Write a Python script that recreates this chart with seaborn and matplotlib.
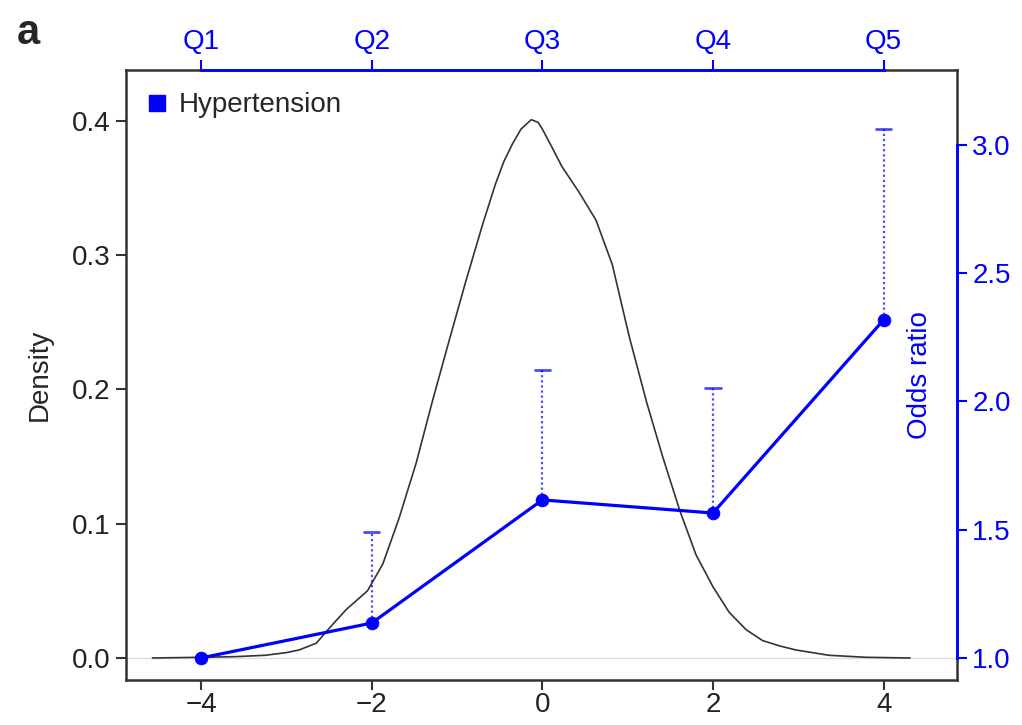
import matplotlib
matplotlib.use("Agg")
import matplotlib.pyplot as plt
import seaborn as sns
import pandas as pd
from matplotlib.lines import Line2D

# ---- data ----
density_x = [-4.57, -4.0, -3.6, -3.25, -3.0, -2.85, -2.65, -2.5, -2.3, -2.05, -1.87,
             -1.68, -1.48, -1.29, -1.09, -0.90, -0.70, -0.55, -0.45, -0.35, -0.25, -0.13,
             -0.05, 0.0, 0.1, 0.23, 0.43, 0.63, 0.82, 1.02, 1.22, 1.41, 1.61, 1.80, 2.0,
             2.19, 2.39, 2.58, 2.78, 2.97, 3.36, 3.8, 4.31]
density_y = [0.0, 0.0005, 0.001, 0.002, 0.004, 0.006, 0.011, 0.022, 0.036, 0.050, 0.070,
             0.104, 0.145, 0.191, 0.237, 0.280, 0.323, 0.353, 0.370, 0.383, 0.394, 0.401,
             0.399, 0.394, 0.382, 0.366, 0.347, 0.326, 0.293, 0.239, 0.191, 0.150, 0.110,
             0.077, 0.053, 0.034, 0.021, 0.013, 0.009, 0.006, 0.002, 0.0005, 0.0]

quintile_x = [-4, -2, 0, 2, 4]
quintile_labels = ["Q1", "Q2", "Q3", "Q4", "Q5"]
odds_ratio = [1.0, 1.136, 1.616, 1.565, 2.318]
odds_upper = [None, 1.491, 2.123, 2.053, 3.062]

x_ticks = [-4, -2, 0, 2, 4]
density_ticks = [0.0, 0.1, 0.2, 0.3, 0.4]
or_ticks = [1.0, 1.5, 2.0, 2.5, 3.0]

BLUE = "#0000ff"
DARK = "#333333"
FS = 20

sns.set_style("ticks")
plt.rcParams["font.family"] = ["Liberation Sans", "DejaVu Sans"]

fig = plt.figure(figsize=(10.22, 7.25), dpi=100)
ax = fig.add_axes([126 / 1022, 45 / 725, (957 - 126) / 1022, (680 - 70) / 725])

dens_df = pd.DataFrame({"x": density_x, "y": density_y})
or_df = pd.DataFrame({"x": quintile_x, "or": odds_ratio})

# baseline
ax.axhline(0, color="#dddddd", lw=1.0, zorder=1)
sns.lineplot(data=dens_df, x="x", y="y", ax=ax, color=DARK, lw=1.2, sort=False,
             estimator=None, zorder=2)
ax.set_xlim(-4.88, 4.86)
ax.set_ylim(-0.0164, 0.438)
ax.set_xticks(x_ticks)
ax.set_xticklabels([f"{t}".replace("-", "\u2212") for t in x_ticks])
ax.set_yticks(density_ticks)
ax.set_yticklabels([f"{t:.1f}" for t in density_ticks])
ax.set_xlabel("")
ax.set_ylabel("Density", fontsize=FS, labelpad=14)
for s in ax.spines.values():
    s.set_visible(True)
    s.set_color(DARK)
    s.set_linewidth(1.8)
ax.tick_params(axis="both", labelsize=FS, length=7, width=1.5, color=DARK, labelcolor="#222222")
ax.tick_params(axis="x", pad=2)
ax.tick_params(axis="y", pad=4)

# odds ratio axis
ax2 = ax.twinx()
sns.lineplot(data=or_df, x="x", y="or", ax=ax2, color=BLUE, lw=2.3, marker="o",
             markersize=9, markeredgecolor=BLUE, sort=False, estimator=None, zorder=5)
for xq, lo, hi in zip(quintile_x, odds_ratio, odds_upper):
    if hi is None:
        continue
    ax2.plot([xq, xq], [lo, hi], color=BLUE, lw=1.6, ls=(0, (1, 1.3)), alpha=0.7, zorder=4)
    ax2.plot([xq - 0.09, xq + 0.09], [hi, hi], color=BLUE, lw=2.0, alpha=0.7, zorder=4)
ax2.set_ylim(0.914, 3.292)
ax2.set_yticks(or_ticks)
ax2.set_yticklabels([f"{t:.1f}" for t in or_ticks])
ax2.set_ylabel("")
for k in ["left", "top", "bottom"]:
    ax2.spines[k].set_visible(False)
ax2.spines["right"].set_color(BLUE)
ax2.spines["right"].set_linewidth(2.0)
ax2.spines["right"].set_bounds(1.0, 3.0)
ax2.spines["right"].set_zorder(10)
ax2.tick_params(axis="y", labelsize=FS, length=7, width=1.5, color=BLUE, labelcolor=BLUE, pad=4)
ax2.text(0.955, 0.5, "Odds ratio", transform=ax.transAxes, rotation=90,
         ha="center", va="center", color=BLUE, fontsize=FS)

# top quintile axis (separate twin so its spine is drawn over the frame)
ax3 = ax.twiny()
ax3.set_xlim(ax.get_xlim())
ax3.set_xticks(quintile_x)
ax3.set_xticklabels(quintile_labels)
for k in ["left", "right", "bottom"]:
    ax3.spines[k].set_visible(False)
ax3.spines["top"].set_color(BLUE)
ax3.spines["top"].set_linewidth(2.0)
ax3.spines["top"].set_bounds(-4, 4)
ax3.tick_params(axis="x", labelsize=FS, length=7, width=1.5, color=BLUE, labelcolor=BLUE, pad=4)

# legend
handle = Line2D([], [], marker="s", color=BLUE, ls="none", markersize=11)
ax.legend([handle], ["Hypertension"], loc="upper left", frameon=False, fontsize=FS,
          handletextpad=-0.2, borderaxespad=0.3, bbox_to_anchor=(-0.02, 0.995))

fig.text(0.016, 0.955, "a", fontsize=30, fontweight="bold", ha="left", va="center")

fig.savefig("out.png", dpi=100)
